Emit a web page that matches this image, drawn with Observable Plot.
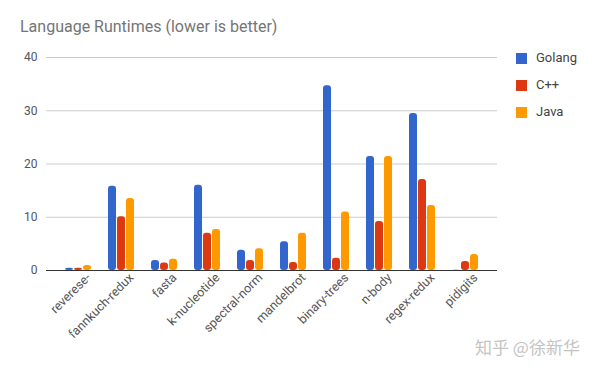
<!DOCTYPE html>
<html><head><meta charset="utf-8">
<script src="https://cdn.jsdelivr.net/npm/d3@7"></script>
<script src="https://cdn.jsdelivr.net/npm/@observablehq/plot@0.6"></script>
<style>
html,body{margin:0;padding:0;background:#fff;}
#wrap{position:relative;width:600px;height:371px;font-family:Roboto,"Noto Sans",sans-serif;}
#title{position:absolute;left:20px;top:17px;font-size:16px;color:#757575;}
#legend{position:absolute;left:516px;top:50px;font-size:13px;color:#444;}
.item{height:27px;display:flex;align-items:flex-start;}
.sw{width:11px;height:11px;margin-right:9px;margin-top:3px;}
#wm{position:absolute;left:475px;top:334px;font-size:17px;color:#c4c4c4;font-family:"Noto Sans CJK SC",sans-serif;}
</style></head>
<body><div id="wrap"><div id="title">Language Runtimes (lower is better)</div><div id="legend"></div><div id="wm">知乎 @徐新华</div></div>
<script>
const categories = ["reverese-","fannkuch-redux","fasta","k-nucleotide","spectral-norm","mandelbrot","binary-trees","n-body","regex-redux","pidigits"];
const series = ["Golang","C++","Java"];
const colors = ["#3366cc","#dc3912","#ff9900"];
const golang = [0.4,15.8,1.9,16.0,3.8,5.4,34.7,21.4,29.5,0.05];
const cpp    = [0.4,10.1,1.4,7.0,1.9,1.5,2.3,9.2,17.1,1.7];
const java   = [0.95,13.5,2.1,7.7,4.1,7.0,11.0,21.4,12.2,3.0];
const yTicks = [0,10,20,30,40];

const values = [golang, cpp, java];
const offsets = [-9, 0, 9];
const barMarks = series.map((s, i) =>
  Plot.barY(categories.map((c, j) => ({category: c, value: values[i][j]})), {
    x: "category", y: "value", fill: colors[i], dx: offsets[i], rx: 3
  })
);

const chart = Plot.plot({
  width: 600, height: 371,
  marginLeft: 46, marginRight: 103, marginTop: 57, marginBottom: 101,
  style: {fontFamily: "Roboto, 'Noto Sans', sans-serif", background: "transparent"},
  x: {domain: categories, paddingInner: 0.816, paddingOuter: 0.592, label: null},
  y: {domain: [0, 40], ticks: yTicks, label: null},
  marks: [
    Plot.ruleY(yTicks.slice(1), {stroke: "#cccccc", strokeWidth: 1}),
    Plot.axisY({ticks: yTicks, tickSize: 0, tickPadding: 9, fontSize: 12, color: "#555", label: null}),
    Plot.axisX({tickSize: 0, tickPadding: 5, tickRotate: -45, fontSize: 12.5, color: "#555", label: null, dx: 10}),
    ...barMarks,
    Plot.ruleY([0], {stroke: "#333", strokeWidth: 1.2})
  ]
});
chart.style.position = "absolute";
chart.style.left = "0px";
chart.style.top = "0px";
const wrap = document.getElementById("wrap");
wrap.insertBefore(chart, wrap.firstChild);

const legend = document.getElementById("legend");
series.forEach((s, i) => {
  const d = document.createElement("div");
  d.className = "item";
  d.innerHTML = `<div class="sw" style="background:${colors[i]}"></div><span>${s}</span>`;
  legend.appendChild(d);
});
</script></body></html>
